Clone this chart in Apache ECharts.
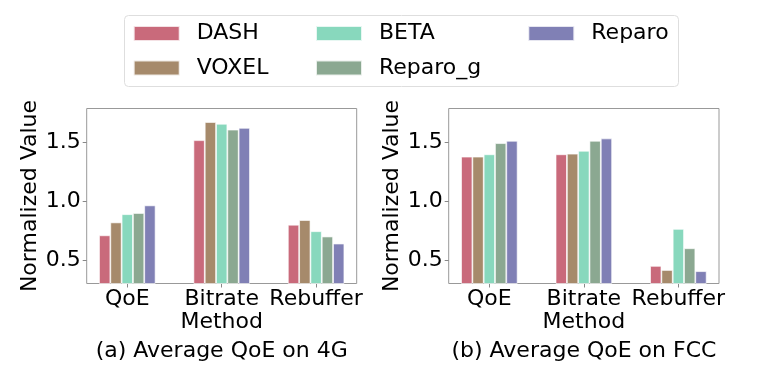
<!DOCTYPE html>
<html>
<head>
<meta charset="utf-8">
<script src="https://cdn.jsdelivr.net/npm/echarts@6/dist/echarts.min.js"></script>
<style>
  html, body { margin: 0; padding: 0; background: #fff; }
  #chart { width: 759px; height: 377px; }
</style>
</head>
<body>
<div id="chart"></div>
<script>
const categories = ["QoE", "Bitrate", "Rebuffer"];
const methods = ["DASH", "VOXEL", "BETA", "Reparo_g", "Reparo"];
const yTicks = [0.5, 1.0, 1.5];

// (a) 4G
const dash4g = [0.71, 1.52, 0.80];
const voxel4g = [0.82, 1.675, 0.84];
const beta4g = [0.89, 1.66, 0.745];
const reparoG4g = [0.90, 1.61, 0.70];
const reparo4g = [0.965, 1.625, 0.64];

// (b) FCC
const dashFcc = [1.38, 1.40, 0.45];
const voxelFcc = [1.38, 1.405, 0.415];
const betaFcc = [1.40, 1.43, 0.765];
const reparoGFcc = [1.495, 1.515, 0.60];
const reparoFcc = [1.515, 1.535, 0.405];

const colors = ["#c96a7b", "#a68a6b", "#88d8bd", "#8ba891", "#8080b5"];
const font = "DejaVu Sans";
const fs = 22;

function makeSeries(idx, list) {
  return list.map((vals, i) => ({
    name: methods[i],
    type: "bar",
    xAxisIndex: idx,
    yAxisIndex: idx,
    barWidth: 11.3,
    barGap: "0%",
    itemStyle: { color: colors[i], borderColor: "rgba(255,255,255,0.8)", borderWidth: 0.8 },
    data: vals.map((v, k) => [k, v])
  }));
}

function xAxis(idx) {
  return {
    gridIndex: idx,
    type: "value",
    min: -0.43,
    max: 2.43,
    name: "Method",
    nameLocation: "middle",
    nameGap: 27,
    nameTextStyle: { fontSize: fs, color: "#000", fontFamily: font },
    axisLine: { show: false, onZero: false },
    splitLine: { show: false },
    axisTick: { show: true, length: 4, customValues: [0, 1, 2], lineStyle: { color: "#888" } },
    axisLabel: {
      customValues: [0, 1, 2],
      margin: 5,
      fontSize: fs,
      color: "#000",
      fontFamily: font,
      formatter: v => categories[Math.round(v)]
    }
  };
}

function yAxis(idx) {
  return {
    gridIndex: idx,
    type: "value",
    min: 0.3,
    max: 1.79,
    name: "Normalized Value",
    nameLocation: "middle",
    nameGap: 45,
    nameTextStyle: { fontSize: fs, color: "#000", fontFamily: font },
    axisLine: { show: false, onZero: false },
    splitLine: { show: false },
    axisTick: { show: true, length: 4, customValues: yTicks, lineStyle: { color: "#888" } },
    axisLabel: {
      customValues: yTicks,
      margin: 6,
      fontSize: fs,
      color: "#000",
      fontFamily: font,
      formatter: v => v.toFixed(1)
    }
  };
}

function legend(names, left) {
  return {
    data: names,
    orient: "vertical",
    left: left,
    top: 22.5,
    padding: 0,
    icon: "rect",
    itemWidth: 46,
    itemHeight: 15,
    itemGap: 12.5,
    selectedMode: false,
    textStyle: { fontSize: fs, lineHeight: 20, color: "#000", fontFamily: font, padding: [0, 0, 0, 12] }
  };
}

const chart = echarts.init(document.getElementById("chart"), null, { renderer: "canvas" });
chart.setOption({
  animation: false,
  color: colors,
  graphic: [{
    type: "rect",
    left: 124,
    top: 15,
    shape: { width: 554, height: 71, r: 4 },
    style: { fill: "#fff", stroke: "#dedede", lineWidth: 1 },
    z: -1
  }],
  legend: [
    legend(["DASH", "VOXEL"], 132.7),
    legend(["BETA", "Reparo_g"], 315),
    legend(["Reparo"], 527.3)
  ],
  title: [
    { text: "(a) Average QoE on 4G", left: 221.7, top: 340, textAlign: "center", padding: 0,
      textStyle: { fontSize: fs, fontWeight: "normal", color: "#000", fontFamily: font } },
    { text: "(b) Average QoE on FCC", left: 583.9, top: 340, textAlign: "center", padding: 0,
      textStyle: { fontSize: fs, fontWeight: "normal", color: "#000", fontFamily: font } }
  ],
  grid: [
    { left: 86.7, top: 108.5, width: 270, height: 175, show: true, borderColor: "#999", borderWidth: 1, backgroundColor: "transparent" },
    { left: 448.7, top: 108.5, width: 270.3, height: 175, show: true, borderColor: "#999", borderWidth: 1, backgroundColor: "transparent" }
  ],
  xAxis: [xAxis(0), xAxis(1)],
  yAxis: [yAxis(0), yAxis(1)],
  series: [
    ...makeSeries(0, [dash4g, voxel4g, beta4g, reparoG4g, reparo4g]),
    ...makeSeries(1, [dashFcc, voxelFcc, betaFcc, reparoGFcc, reparoFcc])
  ]
});
</script>
</body>
</html>
